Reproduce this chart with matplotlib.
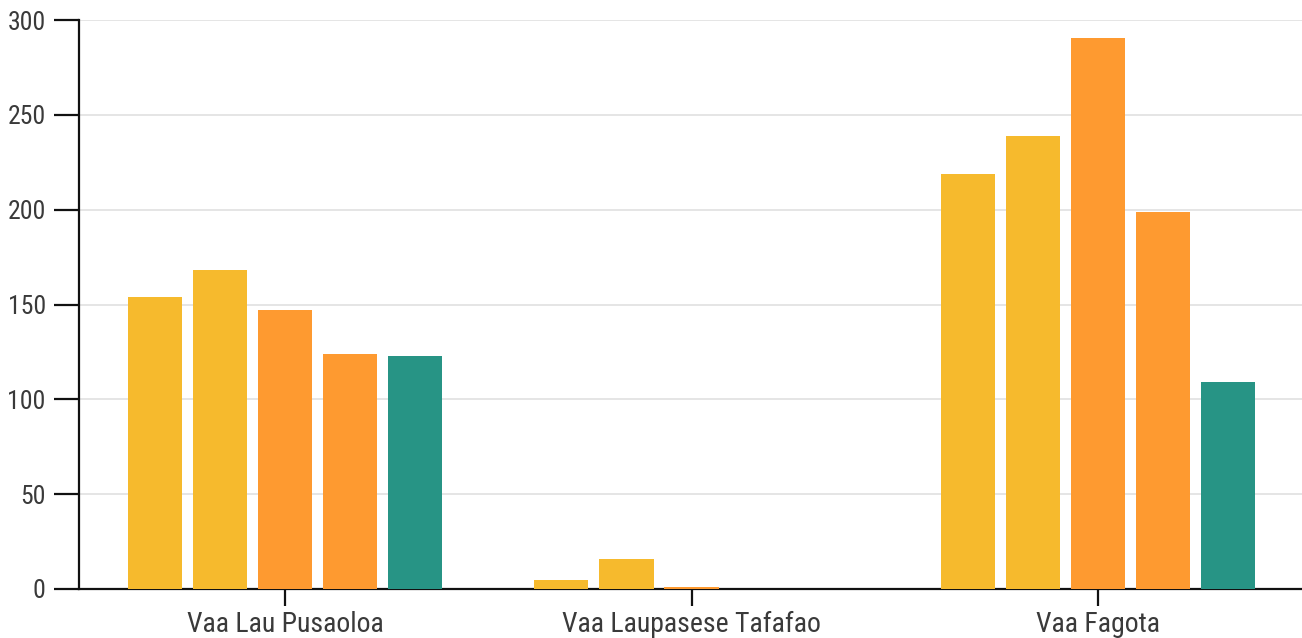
import matplotlib
matplotlib.use("Agg")
import matplotlib.pyplot as plt
from matplotlib import font_manager as fm
import numpy as np

categories = ["Vaa Lau Pusaoloa", "Vaa Laupasese Tafafao", "Vaa Fagota"]
series_1 = [154, 4.5, 219]
series_2 = [168, 16, 239]
series_3 = [147, 1.2, 290.5]
series_4 = [124, 0, 199]
series_5 = [123, 0, 109]
series = [series_1, series_2, series_3, series_4, series_5]
colors = ["#F6BA2D", "#F6BA2D", "#FE9A30", "#FE9A30", "#279485"]
y_ticks = [0, 50, 100, 150, 200, 250, 300]

avail = {f.name for f in fm.fontManager.ttflist}
fam = "Roboto Condensed" if "Roboto Condensed" in avail else "Roboto"
plt.rcParams["font.family"] = [fam, "DejaVu Sans"]

fig = plt.figure(figsize=(13.02, 6.38), dpi=100)
ax = fig.add_axes([79 / 1302, 1 - 589 / 638, (1302 - 79) / 1302, (589 - 20) / 638])

x = np.arange(len(categories))
step = 0.16
width = 0.133
for j, (vals, c) in enumerate(zip(series, colors)):
    ax.bar(x + (j - 2) * step, vals, width=width, color=c, zorder=3)

ax.set_xlim(-0.507, 2.502)
ax.set_ylim(0, 300)
ax.set_yticks(y_ticks)
ax.set_xticks(x)
ax.set_xticklabels(categories)
ax.yaxis.grid(True, color="#e3e3e3", linewidth=1.3, zorder=0)
ax.set_axisbelow(True)
for s in ["top", "right"]:
    ax.spines[s].set_visible(False)
for s in ["left", "bottom"]:
    ax.spines[s].set_linewidth(1.6)
    ax.spines[s].set_color("#111111")
ax.tick_params(axis="y", length=18, width=1.6, color="#111111", labelsize=18.5,
               labelcolor="#3a3a3a", pad=6)
ax.tick_params(axis="x", length=12, width=1.6, color="#111111", labelsize=20,
               labelcolor="#3a3a3a", pad=4)

fig.savefig("out.png", dpi=100)
